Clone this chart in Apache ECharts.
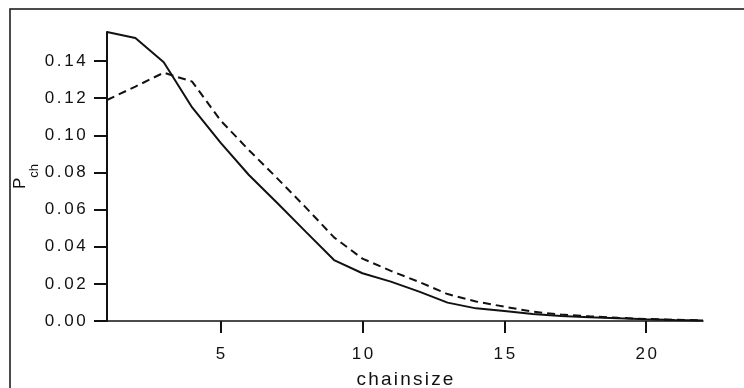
<!DOCTYPE html>
<html>
<head>
<meta charset="utf-8">
<script src="https://cdn.jsdelivr.net/npm/echarts@6/dist/echarts.min.js"></script>
<style>
  html, body { margin: 0; padding: 0; background: #fff; }
  #chart { width: 744px; height: 388px; }
</style>
</head>
<body>
<div id="chart"></div>
<script>
// chain sizes 1..22
const chainSizes = [1, 2, 3, 4, 5, 6, 7, 8, 9, 10, 11, 12, 13, 14, 15, 16, 17, 18, 19, 20, 21, 22];

// solid curve
const solidValues = [
  0.1556, 0.1524, 0.1393, 0.1150, 0.0960, 0.0786, 0.0635, 0.0481, 0.0328, 0.0257, 0.0212,
  0.0158, 0.0099, 0.0068, 0.0054, 0.0038, 0.0027, 0.0020, 0.0015, 0.0010, 0.0006, 0.0003,
];

// dashed curve
const dashedValues = [
  0.1190, 0.1262, 0.1337, 0.1289, 0.1080, 0.0920, 0.0768, 0.0612, 0.0450, 0.0336, 0.0270,
  0.0210, 0.0145, 0.0105, 0.0077, 0.0050, 0.0035, 0.0025, 0.0017, 0.0011, 0.0007, 0.0004,
];

const yTicks = [0, 0.02, 0.04, 0.06, 0.08, 0.1, 0.12, 0.14];
const xTicks = [5, 10, 15, 20];

const toPairs = (ys) => chainSizes.map((x, i) => [x, ys[i]]);

const font = "'Liberation Sans', Arial, Helvetica, sans-serif";

// the scanned labels are letter-spaced, so wrap each char in a padded rich token
const spaced = (s, style) => String(s).split('').map((c) => `{${style}|${c}}`).join('');

const tickRich = {
  c: { fontFamily: font, fontSize: 17, color: '#111', padding: [0, 1.3, 0, 1.3] },
};

const chart = echarts.init(document.getElementById('chart'));

chart.setOption({
  animation: false,
  backgroundColor: '#fff',
  grid: {
    left: 107,
    right: 41,
    top: 32,
    bottom: 67,
    outerBoundsMode: 'none',
  },
  graphic: [
    {
      type: 'polyline',
      shape: { points: [[10, 388], [10, 9], [744, 9]] },
      style: { stroke: '#111', lineWidth: 1.5, fill: null },
    },
  ],
  xAxis: {
    type: 'value',
    min: 1,
    max: 22,
    name: spaced('chainsize', 'n'),
    nameLocation: 'middle',
    nameGap: 49,
    nameTextStyle: {
      fontFamily: font,
      fontSize: 19,
      color: '#111',
      rich: {
        n: { fontFamily: font, fontSize: 19, color: '#111', padding: [0, 1.1, 0, 1.1] },
      },
    },
    splitLine: { show: false },
    axisLine: { show: true, lineStyle: { color: '#111', width: 1.5 } },
    axisTick: {
      show: true,
      customValues: xTicks,
      length: 12,
      lineStyle: { color: '#111', width: 2 },
    },
    axisLabel: {
      customValues: xTicks,
      margin: 25,
      fontFamily: font,
      fontSize: 17,
      color: '#111',
      formatter: (v) => spaced(v, 'c'),
      rich: tickRich,
    },
  },
  yAxis: {
    type: 'value',
    min: 0,
    max: 0.1556,
    name: '{p|P}{s|ch}',
    nameLocation: 'middle',
    nameRotate: 90,
    nameGap: 66,
    nameMoveOverlap: false,
    nameTextStyle: {
      fontFamily: font,
      fontSize: 17,
      color: '#111',
      rich: {
        p: { fontFamily: font, fontSize: 17, lineHeight: 17, color: '#111', verticalAlign: 'top' },
        s: { fontFamily: font, fontSize: 13, lineHeight: 29, color: '#111', verticalAlign: 'bottom' },
      },
    },
    splitLine: { show: false },
    axisLine: { show: true, lineStyle: { color: '#111', width: 2 } },
    axisTick: {
      show: true,
      customValues: yTicks,
      length: 13,
      lineStyle: { color: '#111', width: 2 },
    },
    axisLabel: {
      customValues: yTicks,
      margin: 20,
      fontFamily: font,
      fontSize: 17,
      color: '#111',
      formatter: (v) => spaced(v.toFixed(2), 'c'),
      rich: tickRich,
    },
  },
  series: [
    {
      name: 'solid',
      type: 'line',
      data: toPairs(solidValues),
      showSymbol: false,
      lineStyle: { color: '#111', width: 2 },
    },
    {
      name: 'dashed',
      type: 'line',
      data: toPairs(dashedValues),
      showSymbol: false,
      lineStyle: { color: '#111', width: 2, type: [8, 5] },
    },
  ],
});
</script>
</body>
</html>
